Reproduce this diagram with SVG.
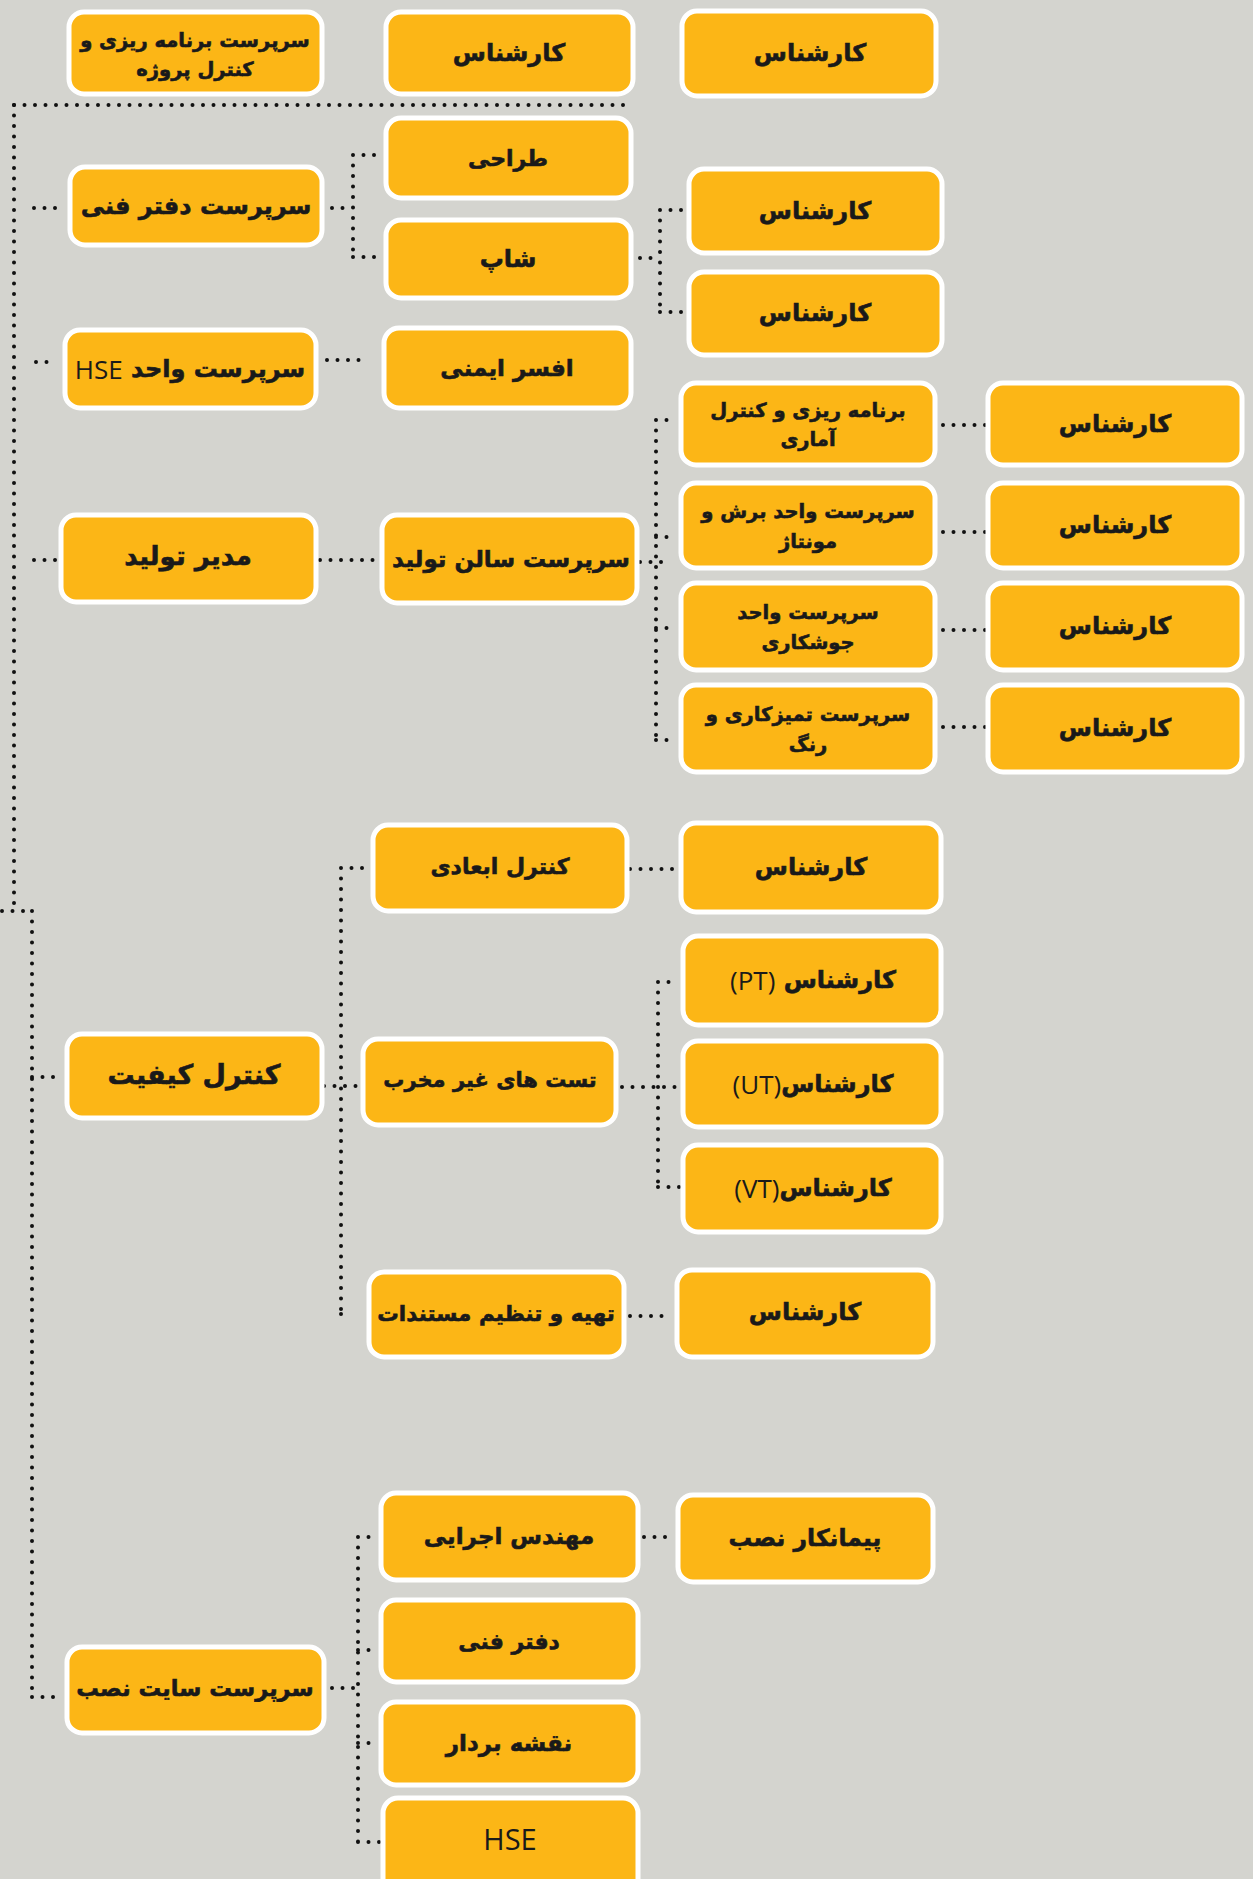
<svg xmlns="http://www.w3.org/2000/svg" width="1253" height="1879" viewBox="0 0 1253 1879">
<style>
.bx{fill:#fcb616;stroke:#ffffff;stroke-width:5}
.t{font-family:"DejaVu Sans",sans-serif;font-weight:bold;font-size:24px;fill:#1a1a1a;stroke:#1a1a1a;stroke-width:0.6;text-anchor:middle;dominant-baseline:central;direction:rtl}
.t2{font-size:19.5px}
.lat{font-family:"Open Sans","Liberation Sans",sans-serif;font-weight:normal;stroke-width:0;font-size:26px}
.c{fill:none;stroke:#111;stroke-width:4;stroke-linecap:round;stroke-dasharray:0 10.5}
</style>
<rect width="1253" height="1879" fill="#d4d4cf"/>
<g id="connectors">
<path class="c" d="M14 105H630"/>
<path class="c" d="M14 105V905"/>
<path class="c" d="M2 911H32"/>
<path class="c" d="M32 911V1697"/>
<path class="c" d="M34 208H62"/>
<path class="c" d="M36 362H57"/>
<path class="c" d="M34 560H57"/>
<path class="c" d="M32 1077H63"/>
<path class="c" d="M32 1697H63"/>
<path class="c" d="M332 208H353M353 155V257M353 155H378M353 257H378"/>
<path class="c" d="M640 258H660M660 210V312M660 210H685M660 312H685"/>
<path class="c" d="M327 360H369"/>
<path class="c" d="M320 560H378"/>
<path class="c" d="M640 562H669M656 420V740M656 420H677M656 537H677M656 628H677M656 740H677"/>
<path class="c" d="M943 425H986M943 532H986M943 630H986M943 727H986"/>
<path class="c" d="M324 1086H363M341 868V1314M341 868H367M341 1314H351"/>
<path class="c" d="M630 869H677"/>
<path class="c" d="M622 1087H683M658 982V1187M658 982H671M658 1187H683"/>
<path class="c" d="M630 1316H667"/>
<path class="c" d="M332 1688H358M358 1537V1842M358 1537H375M358 1650H375M358 1743H375M358 1842H380"/>
<path class="c" d="M644 1537H672"/>
</g>
<g id="n-plan"><rect class="bx" x="69" y="12" width="253" height="82" rx="15"/><text class="t t2" x="195" y="40">سرپرست برنامه ریزی و</text><text class="t t2" x="195" y="69">کنترل پروژه</text></g>
<g id="n-exp-b1"><rect class="bx" x="386" y="12" width="247" height="82" rx="15"/><text class="t" x="509" y="53">کارشناس</text></g>
<g id="n-exp-c1"><rect class="bx" x="682" y="11" width="254" height="85" rx="15"/><text class="t" x="810" y="53">کارشناس</text></g>
<g id="n-tech"><rect class="bx" x="70" y="167" width="252" height="78" rx="15"/><text class="t" style="font-size:24px" x="196" y="206">سرپرست دفتر فنی</text></g>
<g id="n-design"><rect class="bx" x="386" y="118" width="245" height="80" rx="15"/><text class="t" style="font-size:22px" x="508" y="158">طراحی</text></g>
<g id="n-shop"><rect class="bx" x="386" y="220" width="245" height="78" rx="15"/><text class="t" x="508" y="259">شاپ</text></g>
<g id="n-exp-c2"><rect class="bx" x="689" y="169" width="253" height="84" rx="15"/><text class="t" x="815" y="211">کارشناس</text></g>
<g id="n-exp-c3"><rect class="bx" x="689" y="272" width="253" height="83" rx="15"/><text class="t" x="815" y="313">کارشناس</text></g>
<g id="n-hse-sup"><rect class="bx" x="65" y="330" width="251" height="78" rx="15"/><text class="t" x="190" y="369">سرپرست واحد <tspan class="lat">HSE</tspan></text></g>
<g id="n-safety"><rect class="bx" x="384" y="328" width="247" height="80" rx="15"/><text class="t" style="font-size:23px" x="507" y="368">افسر ایمنی</text></g>
<g id="n-stat"><rect class="bx" x="681" y="383" width="254" height="82" rx="15"/><text class="t t2" x="808" y="410">برنامه ریزی و کنترل</text><text class="t t2" x="808" y="439">آماری</text></g>
<g id="n-exp-d1"><rect class="bx" x="988" y="383" width="254" height="82" rx="15"/><text class="t" x="1115" y="424">کارشناس</text></g>
<g id="n-cut"><rect class="bx" x="681" y="483" width="254" height="85" rx="15"/><text class="t t2" x="808" y="511">سرپرست واحد برش و</text><text class="t t2" x="808" y="541">مونتاژ</text></g>
<g id="n-exp-d2"><rect class="bx" x="988" y="483" width="254" height="85" rx="15"/><text class="t" x="1115" y="525">کارشناس</text></g>
<g id="n-weld"><rect class="bx" x="681" y="583" width="254" height="87" rx="15"/><text class="t t2" x="808" y="612">سرپرست واحد</text><text class="t t2" x="808" y="642">جوشکاری</text></g>
<g id="n-exp-d3"><rect class="bx" x="988" y="583" width="254" height="87" rx="15"/><text class="t" x="1115" y="626">کارشناس</text></g>
<g id="n-paint"><rect class="bx" x="681" y="685" width="254" height="87" rx="15"/><text class="t t2" x="808" y="714">سرپرست تمیزکاری و</text><text class="t t2" x="808" y="744">رنگ</text></g>
<g id="n-exp-d4"><rect class="bx" x="988" y="685" width="254" height="87" rx="15"/><text class="t" x="1115" y="728">کارشناس</text></g>
<g id="n-prodmgr"><rect class="bx" x="61" y="515" width="255" height="87" rx="15"/><text class="t" style="font-size:26px" x="188" y="556">مدیر تولید</text></g>
<g id="n-hall"><rect class="bx" x="382" y="515" width="255" height="88" rx="15"/><text class="t" style="font-size:23px" x="511" y="559">سرپرست سالن تولید</text></g>
<g id="n-qc"><rect class="bx" x="67" y="1034" width="255" height="84" rx="15"/><text class="t" style="font-size:27px" x="194" y="1074">کنترل کیفیت</text></g>
<g id="n-dim"><rect class="bx" x="373" y="825" width="254" height="86" rx="15"/><text class="t" style="font-size:22px" x="500" y="866">کنترل ابعادی</text></g>
<g id="n-ndt"><rect class="bx" x="363" y="1039" width="253" height="86" rx="15"/><text class="t" style="font-size:21px" x="490" y="1080">تست های غیر مخرب</text></g>
<g id="n-doc"><rect class="bx" x="369" y="1272" width="255" height="85" rx="15"/><text class="t" style="font-size:21.5px" x="496" y="1313">تهیه و تنظیم مستندات</text></g>
<g id="n-exp-dim"><rect class="bx" x="681" y="823" width="260" height="89" rx="15"/><text class="t" x="811" y="867">کارشناس</text></g>
<g id="n-exp-pt"><rect class="bx" x="683" y="936" width="258" height="89" rx="15"/><text class="t" x="813" y="980">کارشناس <tspan class="lat">(PT)</tspan></text></g>
<g id="n-exp-ut"><rect class="bx" x="683" y="1041" width="258" height="86" rx="15"/><text class="t" x="813" y="1084">کارشناس<tspan class="lat">(UT)</tspan></text></g>
<g id="n-exp-vt"><rect class="bx" x="683" y="1145" width="258" height="87" rx="15"/><text class="t" x="813" y="1188">کارشناس<tspan class="lat">(VT)</tspan></text></g>
<g id="n-exp-doc"><rect class="bx" x="677" y="1270" width="256" height="87" rx="15"/><text class="t" x="805" y="1312">کارشناس</text></g>
<g id="n-site"><rect class="bx" x="67" y="1647" width="257" height="86" rx="15"/><text class="t" style="font-size:22.5px" x="195" y="1688">سرپرست سایت نصب</text></g>
<g id="n-exec"><rect class="bx" x="381" y="1493" width="257" height="87" rx="15"/><text class="t" style="font-size:23px" x="509" y="1536">مهندس اجرایی</text></g>
<g id="n-contractor"><rect class="bx" x="678" y="1495" width="255" height="87" rx="15"/><text class="t" style="font-size:23.5px" x="805" y="1538">پیمانکار نصب</text></g>
<g id="n-techoffice"><rect class="bx" x="381" y="1600" width="257" height="82" rx="15"/><text class="t" style="font-size:22px" x="509" y="1641">دفتر فنی</text></g>
<g id="n-survey"><rect class="bx" x="381" y="1702" width="257" height="83" rx="15"/><text class="t" style="font-size:23px" x="509" y="1743">نقشه بردار</text></g>
<g id="n-hse"><rect class="bx" x="383" y="1798" width="255" height="104" rx="15"/><text class="t lat" x="510" y="1838" style="font-size:29px">HSE</text></g>
</svg>
